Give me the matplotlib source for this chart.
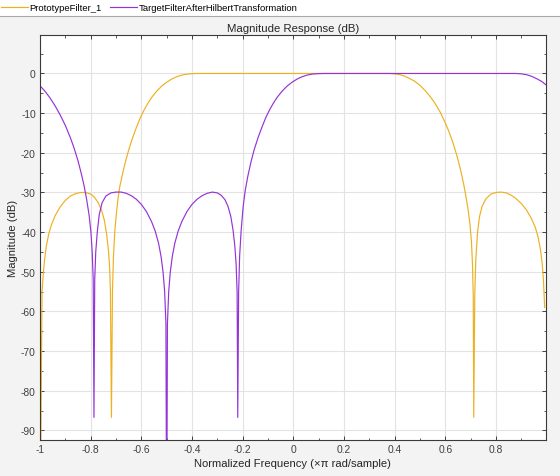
import numpy as np
import matplotlib
matplotlib.use("Agg")
import matplotlib.pyplot as plt
from matplotlib.lines import Line2D
from matplotlib.patches import Rectangle
from matplotlib.ticker import MultipleLocator

plt.rcParams['font.family'] = ['Liberation Sans', 'DejaVu Sans']
plt.rcParams['axes.unicode_minus'] = False

# normalized frequency (x pi rad/sample) and magnitude (dB)
proto_f = [-1.0, -0.992, -0.987, -0.982, -0.975, -0.965, -0.955, -0.94, -0.92, -0.90,
           -0.88, -0.86, -0.84, -0.82, -0.80, -0.785, -0.77, -0.757, -0.746, -0.737,
           -0.73, -0.725, -0.722, -0.718, -0.714, -0.71, -0.705, -0.698, -0.692, -0.685,
           -0.675, -0.665, -0.65, -0.635, -0.62, -0.605, -0.59, -0.575, -0.56, -0.54,
           -0.52, -0.50, -0.48, -0.46, -0.44, -0.42, -0.40, -0.38, -0.2, 0.0,
           0.2, 0.38, 0.40, 0.42, 0.44, 0.46, 0.48, 0.50, 0.52, 0.54,
           0.56, 0.58, 0.60, 0.615, 0.63, 0.645, 0.66, 0.672, 0.682, 0.69,
           0.697, 0.703, 0.707, 0.71, 0.712, 0.716, 0.72, 0.727, 0.735, 0.745,
           0.76, 0.78, 0.80, 0.82, 0.84, 0.86, 0.88, 0.90, 0.92, 0.94,
           0.955, 0.965, 0.975, 0.982, 0.987, 0.992]
proto_db = [-120, -55, -50.5, -47, -43.5, -40.3, -38.2, -35.8, -33.6, -32,
            -30.9, -30.3, -30.0, -30.0, -30.4, -31.2, -32.6, -34.5, -37, -40.5,
            -44.5, -49, -55, -86.7, -55, -46, -40, -35, -31.5, -28.5,
            -25.5, -22.8, -19.3, -16.3, -13.7, -11.3, -9.3, -7.6, -6.1, -4.5,
            -3.2, -2.2, -1.4, -0.8, -0.4, -0.15, -0.05, 0, 0, 0,
            0, 0, -0.1, -0.3, -0.7, -1.3, -2.0, -3.0, -4.3, -5.8,
            -7.6, -9.8, -12.5, -14.8, -17.5, -20.6, -24.3, -27.8, -31.3, -34.5,
            -38, -42.5, -48, -56, -86.7, -56, -47, -40, -36, -33.5,
            -31.6, -30.4, -30.0, -29.9, -30.1, -30.7, -31.6, -32.8, -34.4, -36.6,
            -38.8, -41, -44.2, -47.8, -52, -59]

target_f = [-1.0, -0.98, -0.96, -0.94, -0.92, -0.90, -0.88, -0.865, -0.85, -0.838,
            -0.826, -0.816, -0.806, -0.799, -0.794, -0.79, -0.787, -0.784, -0.78, -0.774,
            -0.766, -0.755, -0.74, -0.72, -0.70, -0.68, -0.66, -0.64, -0.62, -0.60,
            -0.58, -0.56, -0.545, -0.532, -0.522, -0.514, -0.508, -0.503, -0.5, -0.497,
            -0.492, -0.486, -0.478, -0.468, -0.455, -0.44, -0.42, -0.40, -0.38, -0.36,
            -0.34, -0.32, -0.30, -0.285, -0.27, -0.258, -0.247, -0.238, -0.231, -0.226,
            -0.222, -0.2195, -0.216, -0.212, -0.206, -0.198, -0.19, -0.18, -0.168, -0.155,
            -0.14, -0.125, -0.11, -0.095, -0.08, -0.065, -0.045, -0.025, -0.005, 0.015,
            0.035, 0.055, 0.075, 0.095, 0.12, 0.5, 0.88, 0.90, 0.92, 0.94,
            0.96, 0.98, 0.996]
target_db = [-3.1, -4.5, -6.2, -8.2, -10.5, -13.1, -16.2, -18.9, -22, -25,
             -28.3, -31.7, -35.8, -40, -45, -52, -86.7, -52, -45, -40,
             -35.5, -32.6, -30.9, -30.1, -29.9, -29.9, -30.2, -30.8, -31.7, -33,
             -34.8, -37.3, -39.8, -42.8, -46.2, -50.2, -55, -63, -120, -63,
             -55, -50.2, -46.2, -42.8, -39.8, -37.3, -34.8, -33, -31.7, -30.8,
             -30.2, -29.9, -30.1, -30.7, -31.8, -33.5, -36, -39.5, -43.5, -48,
             -55, -86.7, -55, -46, -39.5, -33.5, -29.5, -26, -22.5, -19.3,
             -16.3, -13.7, -11.3, -9.3, -7.6, -6.1, -4.5, -3.2, -2.2, -1.4,
             -0.8, -0.4, -0.15, -0.05, 0, 0, 0, -0.1, -0.3, -0.7,
             -1.3, -2.0, -2.8]

names = ['PrototypeFilter_1', 'TargetFilterAfterHilbertTransformation']
xtick_vals = [-1, -0.8, -0.6, -0.4, -0.2, 0, 0.2, 0.4, 0.6, 0.8]
xtick_text = ['-1', '-0.8', '-0.6', '-0.4', '-0.2', '0', '0.2', '0.4', '0.6', '0.8']
ytick_vals = [-90, -80, -70, -60, -50, -40, -30, -20, -10, 0]

W, H = 560, 477
fig = plt.figure(figsize=(W / 100, H / 100), dpi=100, facecolor='#f3f3f3')
ax = fig.add_axes([40 / W, 1 - 441 / H, 505.7 / W, 405 / H])

c_proto = '#EDB120'
c_target = '#9433D6'
l1, = ax.plot(proto_f, proto_db, color=c_proto, lw=0.85)
l2, = ax.plot(target_f, target_db, color=c_target, lw=0.85)

ax.set_xlim(-1, 0.996)
ax.set_ylim(-92.4, 9.7)
ax.set_xticks(xtick_vals)
ax.set_xticklabels(xtick_text)
ax.set_yticks(ytick_vals)
ax.xaxis.set_minor_locator(MultipleLocator(0.1))
ax.yaxis.set_minor_locator(MultipleLocator(5))
ax.grid(True, which='major', color='#e3e3e3', lw=0.8)
ax.set_axisbelow(True)
ax.tick_params(which='both', direction='in', top=True, right=True,
               colors='#404040', labelsize=7.4, pad=3)
ax.tick_params(which='major', length=3, width=0.7)
ax.tick_params(which='minor', length=1.8, width=0.6)
for s in ax.spines.values():
    s.set_color('#3a3a3a')
    s.set_linewidth(0.8)

ax.set_title('Magnitude Response (dB)', fontsize=8.2, color='#262626', pad=3)
ax.set_xlabel('Normalized Frequency (\u00d7\u03c0 rad/sample)', fontsize=8.1,
              color='#262626', labelpad=3)
ax.set_ylabel('Magnitude (dB)', fontsize=8.1, color='#262626', labelpad=2)

# legend strip at the top
fig.patches.append(Rectangle((0, 1 - 16.5 / H), 1, 16.5 / H, transform=fig.transFigure,
                             facecolor='white', edgecolor='none', zorder=0))
fig.lines.append(Line2D([0, 1], [1 - 16.5 / H, 1 - 16.5 / H], transform=fig.transFigure,
                        color='#a8a8a8', lw=0.8))
fig.legend([l1, l2], names, loc='upper left', bbox_to_anchor=(-0.008, 1.003),
           ncol=2, frameon=False, fontsize=6.8, handlelength=2.8,
           handletextpad=0.2, columnspacing=0.9, borderaxespad=0.2)

fig.savefig('out.png', dpi=100, facecolor=fig.get_facecolor())
